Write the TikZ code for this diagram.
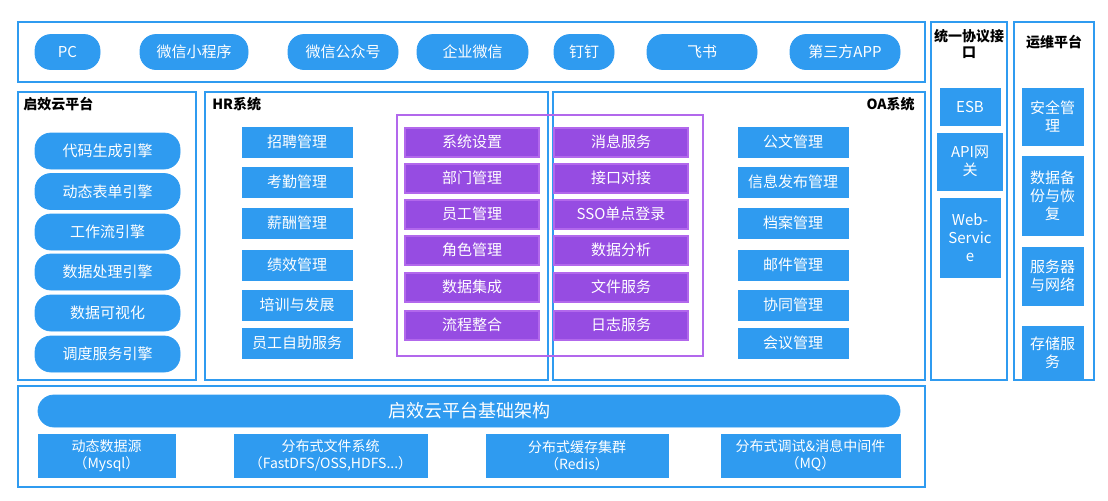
\documentclass[tikz,border=0pt]{standalone}
\usepackage{fontspec}
\setmainfont{Noto Sans CJK SC}
\definecolor{qblue}{RGB}{47,155,240}
\definecolor{qpurple}{RGB}{150,76,226}
\definecolor{qpline}{RGB}{178,104,236}
\tikzset{
  frame/.style={draw=qblue,line width=1pt},
  title/.style={anchor=north west,font=\fontsize{7}{8}\selectfont\bfseries,inner sep=1pt},
  pill/.style={rounded corners=8pt,fill=qblue,draw=qblue,text=white,font=\fontsize{7.5}{9}\selectfont},
  blk/.style={fill=qblue,draw=qblue,text=white,font=\fontsize{7.5}{9}\selectfont,align=center},
  pblk/.style={fill=qpurple,draw=qpline,line width=1pt,text=white,font=\fontsize{7.5}{9}\selectfont},
}
\begin{document}
\begin{tikzpicture}[x=0.5pt,y=-0.5pt]
\useasboundingbox (0,0) rectangle (1108,500);
% frames
\draw[frame] (18,22) rectangle (925,82);
\draw[frame] (18,92) rectangle (196,380);
\draw[frame] (205,92) rectangle (548,380);
\draw[frame] (553,92) rectangle (925,380);
\draw[frame] (18,386) rectangle (925,487);
\draw[frame] (931,22) rectangle (1007,380);
\draw[frame] (1014,22) rectangle (1094,380);
\draw[qpline,line width=1pt] (397,115) rectangle (703,356);
\node[title] (t1) at (21,95) {启效云平台};
\node[title] (t2) at (210,95) {HR系统};
\node[title,anchor=north east] (t3) at (917,95) {OA系统};
\node[title,anchor=north,align=center,text width=66pt] (t4) at (969,27) {统一协议接\\口};
\node[title,anchor=north] (t5) at (1054,33) {运维平台};
% clients
\foreach \a/\b/\t [count=\i] in {35/100/PC,140/248/微信小程序,288/398/微信公众号,417/528/企业微信,554/614/钉钉,647/757/飞书,790/900/第三方APP}
  \node[pill,minimum width={(\b-\a)*0.5pt},minimum height=17.5pt] (c\i) at ({(\a+\b)/2},52) {\t};
% engines
\foreach \y/\t [count=\i] in {151/代码生成引擎,191.5/动态表单引擎,232/工作流引擎,272/数据处理引擎,313/数据可视化,354/调度服务引擎}
  \node[pill,minimum width=72.5pt,minimum height=18pt] (e\i) at (107.5,\y) {\t};
% HR and OA
\foreach \y/\t/\s [count=\i] in {142/招聘管理/公文管理,182/考勤管理/信息发布管理,223/薪酬管理/档案管理,265/绩效管理/邮件管理,305/培训与发展/协同管理,343/员工自助服务/会议管理}{
  \node[blk,minimum width=55pt,minimum height=15pt] (h\i) at (297,\y) {\t};
  \node[blk,minimum width=55pt,minimum height=15pt] (o\i) at (793,\y) {\s};
}
% core
\foreach \y/\t/\s [count=\i] in {142/系统设置/消息服务,178/部门管理/接口对接,214/员工管理/SSO单点登录,250/角色管理/数据分析,287/数据集成/文件服务,325/流程整合/日志服务}{
  \node[pblk,minimum width=67pt,minimum height=14.5pt] (p\i) at (472,\y) {\t};
  \node[pblk,minimum width=67pt,minimum height=14.5pt] (q\i) at (621,\y) {\s};
}
% base
\node[pill,minimum width=431pt,minimum height=16pt,font=\fontsize{9}{10}\selectfont] (base) at (469,411) {启效云平台基础架构};
\foreach \a/\b/\t [count=\i] in {38/175/{动态数据源\\（Mysql）},234/427/{分布式文件系统\\（FastDFS/OSS,HDFS...）},486/668/{分布式缓存集群\\（Redis）},721/900/{分布式调试\&消息中间件\\（MQ）}}
  \node[blk,minimum width={(\b-\a)*0.5pt},minimum height=21.5pt,inner sep=1pt,font=\fontsize{7}{8.5}\selectfont] (b\i) at ({(\a+\b)/2},455.5) {\t};
% protocol
\node[blk,minimum width=30pt,minimum height=18.5pt] (u1) at (970,106.5) {ESB};
\node[blk,minimum width=30pt,minimum height=28.5pt,text width=26pt] (u2) at (970,161.5) {API网\\关};
\node[blk,minimum width=30pt,minimum height=39.5pt,text width=26pt,inner sep=1pt] (u3) at (970,237.5) {Web-\\Servic\\e};
% ops
\foreach \a/\b/\t [count=\i] in {88/145/{安全管\\理},156/235/{数据备\\份与恢\\复},247/305/{服务器\\与网络},326/380/{存储服\\务}}
  \node[blk,minimum width=30.5pt,minimum height={(\b-\a)*0.5pt},text width=27pt,inner sep=1pt] (w\i) at (1052.5,{(\a+\b)/2}) {\t};
\end{tikzpicture}
\end{document}
